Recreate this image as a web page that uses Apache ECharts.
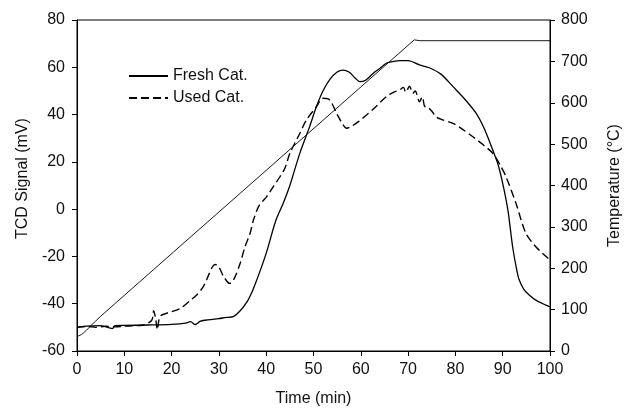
<!DOCTYPE html>
<html>
<head>
<meta charset="utf-8">
<script src="https://cdn.jsdelivr.net/npm/echarts@6/dist/echarts.min.js"></script>
<style>html,body{margin:0;padding:0;background:#fff}#c{width:625px;height:412px}</style>
</head>
<body>
<div id="c"></div>
<script>
var xTicks = [0,10,20,30,40,50,60,70,80,90,100];
var freshTime = [0,2,5,7.5,8,10,15,20,23,24,25,26,27,30,31.6,33,34.5,36,37,38,40,42,43.6,45,47.1,49.2,50.6,52,53.5,55,56.2,57.5,58.8,59.8,61,62.6,64,65.4,67,68.2,70,72.4,74.5,77,79.5,82,84.4,86,87.9,89,90,91.1,92.1,93,93.5,94.5,95.6,97,99,100];
var freshSignal = [-50,-49.5,-49.3,-50.5,-49.3,-49.2,-49,-48.7,-48.2,-47.6,-48.8,-47.5,-47,-46.3,-45.8,-45.5,-43,-39,-35,-30,-18.7,-5,2.5,10,23.6,35,43.3,50,55,58,58.8,58,55.5,53.9,54.5,57.4,59.5,61.7,62.5,62.8,62.8,61,59.8,57,51.8,46.5,40.5,34.5,25,19,10.9,-0.4,-15.9,-26,-30,-34,-36.3,-38.5,-40.5,-41.3];
var usedTime = [0,2,4,6,8,10,12,14,15.8,16.2,16.6,17,17.3,17.6,19,21.8,24,25.3,26.7,27.8,28.6,29.2,30,31,32.3,33.2,34.5,35.5,36.6,37.3,38.5,40.1,41.5,42.9,44,45,47.1,48.5,50.6,52,53.4,54.9,56,57,58,59.5,61.2,63,65.4,67,68.2,69,69.5,70.3,71,71.5,72.4,73,73.5,74.1,75,75.9,77,79.5,81,83.7,86,87.9,89.5,90.7,92.8,94.9,97,100];
var usedSignal = [-50,-49.6,-50,-49.5,-49.8,-49.5,-49.3,-49,-47,-43,-46,-51,-47,-45.2,-44,-42,-38.5,-36.3,-32.8,-28,-24.5,-23.4,-24.5,-28.5,-31.4,-29.5,-22.9,-16,-10.2,-4.6,1.5,5.3,9.5,13.7,17.5,23.6,32,37.7,43.3,46.9,46.2,40.5,36.5,34.2,35,37,39.8,43,47.6,49.5,50.4,51.5,49.5,52,49,50,45.4,47.5,43.5,43.3,41.5,39.1,38,36.3,34.5,30.6,27,23.6,18.5,13.7,2.5,-10.2,-15.9,-21.5];
var tempTime = [0,1,2,3,4,5,71.3,72.5,100];
var tempValue = [35,40,50,62,73,84,752,750,750];

function pairs(a,b){return a.map(function(v,i){return [v,b[i]];});}
var font = 'Liberation Sans, Arial, sans-serif';
var chart = echarts.init(document.getElementById('c'));
var axisCommon = {
  axisLine:{show:true,onZero:false,lineStyle:{color:'#000',width:1}},
  axisTick:{show:true,inside:false,length:5,lineStyle:{color:'#000'}},
  splitLine:{show:false},
  axisLabel:{color:'#111',fontSize:16,fontFamily:font},
  nameTextStyle:{color:'#111',fontSize:16,fontFamily:font}
};
chart.setOption({
  animation:false,
  backgroundColor:'#fff',
  grid:{left:77,right:75,top:20,bottom:61,show:true,borderColor:'#000',borderWidth:1,outerBoundsMode:'none',containLabel:false},
  legend:{
    data:['Fresh Cat.','Used Cat.'],
    orient:'vertical',left:123,top:63,itemWidth:39,itemHeight:12,itemGap:6,
    itemStyle:{opacity:0,borderWidth:0},
    textStyle:{color:'#111',fontSize:16,fontFamily:font}
  },
  xAxis:Object.assign({},axisCommon,{type:'value',min:0,max:100,interval:10,name:'Time (min)',nameLocation:'middle',nameGap:40,
    axisLabel:Object.assign({},axisCommon.axisLabel,{margin:11})}),
  yAxis:[
    Object.assign({},axisCommon,{type:'value',min:-60,max:80,interval:20,name:'TCD Signal (mV)',nameLocation:'middle',nameGap:46,
      nameTextStyle:Object.assign({},axisCommon.nameTextStyle,{padding:[0,0,0,14]}),
      axisLabel:Object.assign({},axisCommon.axisLabel,{margin:12})}),
    Object.assign({},axisCommon,{type:'value',min:0,max:800,interval:100,position:'right',name:'Temperature (°C)',nameLocation:'middle',nameGap:57,nameRotate:90,
      axisLabel:Object.assign({},axisCommon.axisLabel,{margin:11})})
  ],
  series:[
    {name:'Fresh Cat.',type:'line',data:pairs(freshTime,freshSignal),symbol:'none',smooth:0.3,lineStyle:{color:'#000',width:1.3,type:'solid'},itemStyle:{color:'#000'}},
    {name:'Used Cat.',type:'line',data:pairs(usedTime,usedSignal),symbol:'none',smooth:0.3,lineStyle:{color:'#000',width:1.4,type:[8,4]},itemStyle:{color:'#000'}},
    {name:'Temperature',type:'line',yAxisIndex:1,data:pairs(tempTime,tempValue),symbol:'none',smooth:false,lineStyle:{color:'#000',width:0.9},itemStyle:{color:'#000'}}
  ]
});
</script>
</body>
</html>
